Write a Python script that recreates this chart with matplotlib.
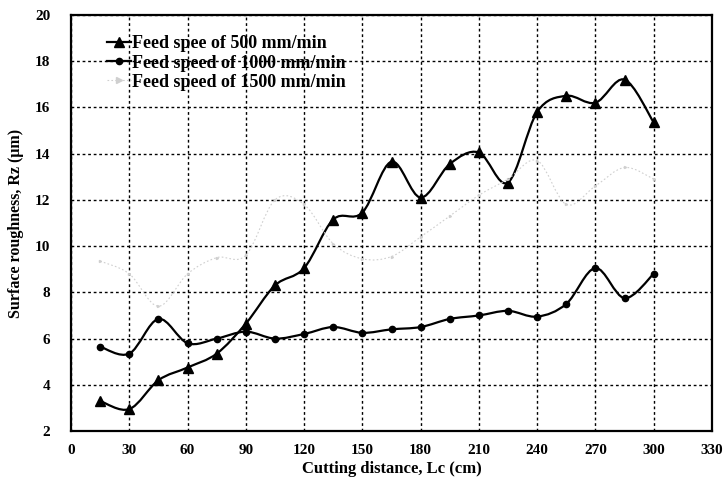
import numpy as np
import matplotlib.pyplot as plt
from matplotlib.path import Path
from matplotlib.patches import PathPatch
from matplotlib.lines import Line2D

# Cutting distance (cm) and measured Rz (um) for each feed speed
distance = [15, 30, 45, 60, 75, 90, 105, 120, 135, 150,
            165, 180, 195, 210, 225, 240, 255, 270, 285, 300]
rz_500 = [3.3, 2.95, 4.2, 4.75, 5.35, 6.65, 8.3, 9.05, 11.15, 11.45,
          13.65, 12.1, 13.55, 14.05, 12.75, 15.8, 16.5, 16.2, 17.2, 15.35]
rz_1000 = [5.65, 5.35, 6.85, 5.8, 6.0, 6.3, 6.0, 6.2, 6.5, 6.25,
           6.4, 6.5, 6.85, 7.0, 7.2, 6.95, 7.5, 9.05, 7.75, 8.8]
rz_1500 = [9.35, 8.8, 7.4, 8.8, 9.5, 9.6, 12.0, 11.8, 10.1, 9.45,
           9.55, 10.4, 11.3, 12.2, 12.9, 13.7, 11.8, 12.6, 13.4, 12.9]

labels = ["Feed spee of 500 mm/min",
          "Feed speed of 1000 mm/min",
          "Feed speed of 1500 mm/min"]

x_ticks = list(range(0, 331, 30))
y_ticks = list(range(2, 21, 2))

plt.rcParams["font.family"] = ["Liberation Serif", "DejaVu Serif"]
plt.rcParams["font.weight"] = "bold"
plt.rcParams["axes.labelweight"] = "bold"


def smooth_path(x, y):
    # Catmull-Rom style smoothing through the data points, as cubic Beziers
    pts = np.column_stack([x, y]).astype(float)
    ext = np.vstack([pts[0], pts, pts[-1]])
    verts = [pts[0]]
    codes = [Path.MOVETO]
    for i in range(1, len(ext) - 2):
        p0, p1, p2, p3 = ext[i - 1], ext[i], ext[i + 1], ext[i + 2]
        verts += [p1 + (p2 - p0) / 6, p2 - (p3 - p1) / 6, p2]
        codes += [Path.CURVE4] * 3
    return Path(verts, codes)


fig = plt.figure(figsize=(7.25, 4.79), dpi=100)
ax = fig.add_axes([0.098, 0.100, 0.884, 0.869])

series = [
    (rz_500, "black", "^", 7, 1.6, "-"),
    (rz_1000, "black", "o", 4.5, 1.6, "-"),
    (rz_1500, "#cfcfcf", ">", 1.5, 0.8, (0, (1.5, 2))),
]
handles = []
for (vals, col, mk, ms, lw, ls), lab in zip(series, labels):
    ax.add_patch(PathPatch(smooth_path(distance, vals), facecolor="none",
                           edgecolor=col, lw=lw, linestyle=ls, zorder=3))
    ax.plot(distance, vals, linestyle="none", marker=mk, ms=ms,
            color=col, zorder=4)
    handles.append(Line2D([], [], color=col, lw=lw, linestyle=ls,
                          marker=mk, ms=ms + (3 if ms < 3 else 0), label=lab))

ax.set_xlim(0, 330)
ax.set_ylim(2, 20)
ax.set_xticks(x_ticks)
ax.set_yticks(y_ticks)
ax.tick_params(length=0, labelsize=11)
ax.tick_params(axis="y", pad=15)
ax.tick_params(axis="x", pad=9)

ax.grid(True, color="black", linestyle=(0, (2, 2)), linewidth=1.0)
for s in ax.spines.values():
    s.set_linewidth(1.6)

ax.set_xlabel("Cutting distance, Lc (cm)", fontsize=12, labelpad=3)
ax.set_ylabel("Surface roughness, Rz (μm)", fontsize=11.5, labelpad=8)

leg = ax.legend(handles=handles, loc="upper left",
                bbox_to_anchor=(0.045, 0.968), frameon=False,
                fontsize=13, handlelength=1.3, handletextpad=0.1,
                labelspacing=0.12, borderaxespad=0)

fig.savefig("out.png", dpi=100)
plt.close(fig)
